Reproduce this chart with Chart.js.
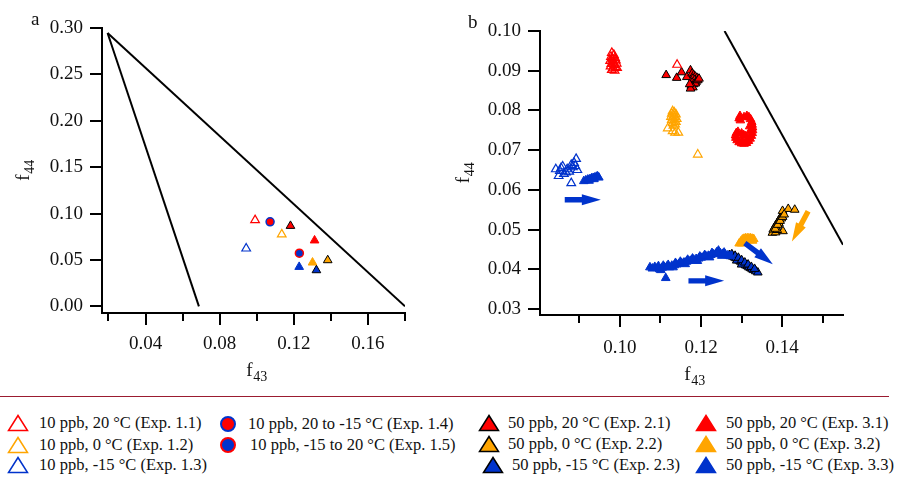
<!DOCTYPE html>
<html>
<head>
<meta charset="utf-8">
<script src="https://cdn.jsdelivr.net/npm/chart.js@4"></script>
<style>
  body { margin: 0; background: #fff; }
  #wrap { position: relative; width: 904px; height: 480px; overflow: hidden; font-family: "Liberation Serif", "Times New Roman", serif; }
  canvas { position: absolute; top: 0; }
  #sep { position: absolute; left: 0; top: 396px; width: 889px; height: 1px; background: #9b1b30; }
  .item { position: absolute; height: 20px; line-height: 20px; font-size: 16.5px; color: #111; white-space: nowrap; }
  .mk { position: absolute; }
</style>
</head>
<body>
<div id="wrap">
  <canvas id="chartA" width="420" height="390" style="left:0"></canvas>
  <canvas id="chartB" width="464" height="390" style="left:440px"></canvas>
  <div id="sep"></div>
  <div id="legend"></div>
</div>
<script>
const RED = "#ff0000";
const ORANGE = "#ffa500";
const BLUE = "#0033cc";
const FONT = "'Liberation Serif', 'Times New Roman', serif";

// Experiments (order used by panel a and the legend)
const expNames = ["1.1", "1.2", "1.3", "1.4", "1.5", "2.1", "2.2", "2.3", "3.1", "3.2", "3.3"];
const expLabels = [
  "10 ppb, 20 °C (Exp. 1.1)", "10 ppb, 0 °C (Exp. 1.2)", "10 ppb, -15 °C (Exp. 1.3)",
  "10 ppb, 20 to -15 °C (Exp. 1.4)", "10 ppb, -15 to 20 °C (Exp. 1.5)",
  "50 ppb, 20 °C (Exp. 2.1)", "50 ppb, 0 °C (Exp. 2.2)", "50 ppb, -15 °C (Exp. 2.3)",
  "50 ppb, 20 °C (Exp. 3.1)", "50 ppb, 0 °C (Exp. 3.2)", "50 ppb, -15 °C (Exp. 3.3)"
];

// Panel a: average f43 / f44 per experiment
const aF43 = [0.0991, 0.1135, 0.0943, 0.1072, 0.1230, 0.1182, 0.1383, 0.1322, 0.1312, 0.1301, 0.1229];
const aF44 = [0.0929, 0.0775, 0.0623, 0.0911, 0.0573, 0.0867, 0.0497, 0.0389, 0.0710, 0.0472, 0.0425];

// Panel a triangle boundary lines
const lineLeftA = [[0.0195, 0.2946], [0.0688, 0.0]];
const lineRightA = [[0.0195, 0.2946], [0.18, 0.0]];
const xMajorA = [0.04, 0.08, 0.12, 0.16];
const xMinorA = [0.02, 0.06, 0.10, 0.14, 0.18];
const yMajorA = [0.00, 0.05, 0.10, 0.15, 0.20, 0.25, 0.30];

// Panel b: time-resolved f43 / f44
const b11 = [[0.0980, 0.0945], [0.0985, 0.0940], [0.0978, 0.0935], [0.0988, 0.0932], [0.0982, 0.0928],
  [0.0976, 0.0925], [0.0990, 0.0926], [0.0984, 0.0921], [0.0979, 0.0917], [0.0992, 0.0918],
  [0.0986, 0.0914], [0.0977, 0.0911], [0.0989, 0.0909], [0.0983, 0.0906], [0.0993, 0.0907],
  [0.0980, 0.0902], [0.0987, 0.0900], [0.0985, 0.0918], [0.0981, 0.0931], [0.1141, 0.0915]];
const b12 = [[0.1130, 0.0798], [0.1134, 0.0795], [0.1128, 0.0792], [0.1138, 0.0790], [0.1132, 0.0787],
  [0.1126, 0.0784], [0.1136, 0.0783], [0.1130, 0.0780], [0.1140, 0.0779], [0.1128, 0.0776],
  [0.1134, 0.0774], [0.1138, 0.0771], [0.1130, 0.0768], [0.1136, 0.0765], [0.1132, 0.0762],
  [0.1118, 0.0755], [0.1130, 0.0748], [0.1136, 0.0744], [0.1144, 0.0744], [0.1192, 0.0689]];
const b13 = [[0.0842, 0.0652], [0.0859, 0.0659], [0.0892, 0.0678], [0.0880, 0.0663], [0.0849, 0.0635],
  [0.0880, 0.0617], [0.0867, 0.0644], [0.0895, 0.0650], [0.0852, 0.0648], [0.0870, 0.0652],
  [0.0887, 0.0668], [0.0875, 0.0646], [0.0862, 0.0640], [0.0855, 0.0655], [0.0884, 0.0657],
  [0.0890, 0.0660]];
const b21 = [[0.1114, 0.0889], [0.1140, 0.0882], [0.1152, 0.0896], [0.1165, 0.0884], [0.1174, 0.0901],
  [0.1178, 0.0893], [0.1182, 0.0889], [0.1186, 0.0885], [0.1190, 0.0882], [0.1180, 0.0880],
  [0.1184, 0.0876], [0.1188, 0.0872], [0.1178, 0.0870], [0.1182, 0.0866], [0.1186, 0.0868],
  [0.1176, 0.0862], [0.1180, 0.0858], [0.1174, 0.0855], [0.1192, 0.0876], [0.1195, 0.0880],
  [0.1172, 0.0866]];
const b22 = [[0.1376, 0.0492], [0.1384, 0.0493], [0.1402, 0.0496], [0.1378, 0.0500], [0.1381, 0.0505],
  [0.1384, 0.0510], [0.1387, 0.0515], [0.1390, 0.0520], [0.1393, 0.0525], [0.1396, 0.0530],
  [0.1399, 0.0535], [0.1402, 0.0540], [0.1386, 0.0506], [0.1392, 0.0516], [0.1398, 0.0528],
  [0.1401, 0.0547], [0.1415, 0.0552], [0.1431, 0.0550], [0.1388, 0.0499],
  [0.1383, 0.0502], [0.1389, 0.0512], [0.1395, 0.0522], [0.1401, 0.0532], [0.1405, 0.0538]];
const b23 = [[0.1270, 0.0436], [0.1274, 0.0434], [0.1278, 0.0432], [0.1282, 0.0430], [0.1286, 0.0428],
  [0.1290, 0.0425], [0.1294, 0.0422], [0.1298, 0.0419], [0.1302, 0.0416], [0.1306, 0.0413],
  [0.1310, 0.0410], [0.1314, 0.0408], [0.1318, 0.0405], [0.1322, 0.0403], [0.1326, 0.0400],
  [0.1330, 0.0398], [0.1335, 0.0395], [0.1340, 0.0392], [0.1288, 0.0422], [0.1300, 0.0412],
  [0.1276, 0.0438], [0.1284, 0.0434], [0.1292, 0.0429], [0.1300, 0.0423], [0.1308, 0.0417],
  [0.1316, 0.0412], [0.1324, 0.0406], [0.1332, 0.0401]];
const b31 = [[0.1296, 0.0786], [0.1294, 0.0780], [0.1297, 0.0775], [0.1306, 0.0783], [0.1313, 0.0786],
  [0.1318, 0.0783], [0.1322, 0.0778], [0.1325, 0.0771], [0.1326, 0.0764], [0.1327, 0.0757],
  [0.1327, 0.0750], [0.1326, 0.0743], [0.1324, 0.0736], [0.1321, 0.0729], [0.1317, 0.0723],
  [0.1312, 0.0718], [0.1306, 0.0716], [0.1300, 0.0717], [0.1294, 0.0720], [0.1289, 0.0725],
  [0.1286, 0.0731], [0.1285, 0.0737], [0.1287, 0.0743], [0.1291, 0.0746], [0.1300, 0.0742],
  [0.1305, 0.0738], [0.1310, 0.0735], [0.1320, 0.0760], [0.1321, 0.0748], [0.1315, 0.0728],
  [0.1300, 0.0724]];
const b32 = [[0.1294, 0.0465], [0.1298, 0.0470], [0.1302, 0.0475], [0.1306, 0.0477], [0.1310, 0.0478],
  [0.1314, 0.0478], [0.1318, 0.0478], [0.1322, 0.0478], [0.1326, 0.0477], [0.1330, 0.0476],
  [0.1304, 0.0470], [0.1312, 0.0473], [0.1320, 0.0473], [0.1300, 0.0465], [0.1327, 0.0472]];
const b33 = [[0.0911, 0.0622], [0.0916, 0.0624], [0.0921, 0.0626], [0.0926, 0.0627], [0.0930, 0.0629],
  [0.0934, 0.0630], [0.0938, 0.0631], [0.0942, 0.0633], [0.0945, 0.0634], [0.0948, 0.0631],
  [0.0924, 0.0623], [0.0936, 0.0627],
  [0.1074, 0.0405], [0.1080, 0.0402], [0.1086, 0.0406], [0.1092, 0.0403], [0.1098, 0.0400],
  [0.1104, 0.0404], [0.1113, 0.0378], [0.1110, 0.0405], [0.1116, 0.0407], [0.1122, 0.0405],
  [0.1128, 0.0409], [0.1134, 0.0410], [0.1140, 0.0412], [0.1146, 0.0414], [0.1152, 0.0416],
  [0.1158, 0.0417], [0.1164, 0.0419], [0.1170, 0.0421], [0.1176, 0.0423], [0.1182, 0.0424],
  [0.1188, 0.0426], [0.1194, 0.0427], [0.1200, 0.0429], [0.1206, 0.0431], [0.1212, 0.0433],
  [0.1218, 0.0434], [0.1224, 0.0436], [0.1230, 0.0438], [0.1236, 0.0439], [0.1243, 0.0447],
  [0.1248, 0.0440], [0.1254, 0.0439], [0.1260, 0.0437], [0.1266, 0.0435], [0.1272, 0.0433],
  [0.1101, 0.0398], [0.1131, 0.0405], [0.1161, 0.0413], [0.1191, 0.0421], [0.1221, 0.0430],
  [0.1251, 0.0434],
  [0.1095, 0.0408], [0.1107, 0.0409], [0.1119, 0.0411], [0.1137, 0.0416], [0.1149, 0.0419],
  [0.1167, 0.0424], [0.1179, 0.0427], [0.1197, 0.0432], [0.1209, 0.0436], [0.1227, 0.0441],
  [0.1239, 0.0443], [0.1257, 0.0442]];

// Panel b boundary line and arrows [fromX, fromY, toX, toY]
const lineB = [[0.1258, 0.1000], [0.155, 0.0462]];
const arrowsBlueB = [[0.0864, 0.0575, 0.0953, 0.0575], [0.1169, 0.0371, 0.1257, 0.0371], [0.1308, 0.0466, 0.1377, 0.0413]];
const arrowsOrangeB = [[0.1464, 0.0546, 0.1424, 0.0470]];
const xMajorB = [0.10, 0.12, 0.14];
const xMinorB = [0.09, 0.11, 0.13, 0.15];
const yMajorB = [0.03, 0.04, 0.05, 0.06, 0.07, 0.08, 0.09, 0.10];

// marker style per experiment
const expStyle = {
  "1.1": { kind: "open", color: RED }, "1.2": { kind: "open", color: ORANGE }, "1.3": { kind: "open", color: BLUE },
  "1.4": { kind: "circle", color: RED, edge: BLUE }, "1.5": { kind: "circle", color: BLUE, edge: RED },
  "2.1": { kind: "edge", color: RED }, "2.2": { kind: "edge", color: ORANGE }, "2.3": { kind: "edge", color: BLUE },
  "3.1": { kind: "fill", color: RED }, "3.2": { kind: "fill", color: ORANGE }, "3.3": { kind: "fill", color: BLUE }
};

function pts(arr) {
  return arr.map(p => ({ x: p[0], y: p[1] }));
}

function markerDataset(name, data) {
  const s = expStyle[name];
  const ds = { label: name, data, pointStyle: "triangle", pointRadius: 5, pointBorderWidth: 1, showLine: false };
  if (s.kind === "open") {
    ds.pointBackgroundColor = "rgba(0,0,0,0)";
    ds.pointBorderColor = s.color;
    ds.pointBorderWidth = 1.2;
  } else if (s.kind === "edge") {
    ds.pointBackgroundColor = s.color;
    ds.pointBorderColor = "#000";
  } else if (s.kind === "fill") {
    ds.pointBackgroundColor = s.color;
    ds.pointBorderColor = s.color;
  } else {
    ds.pointStyle = "circle";
    ds.pointRadius = 4;
    ds.pointBackgroundColor = s.color;
    ds.pointBorderColor = s.edge;
    ds.pointBorderWidth = 1.5;
  }
  return ds;
}

function lineDataset(arr) {
  return { data: pts(arr), showLine: true, borderColor: "#000", borderWidth: 2, pointRadius: 0, fill: false };
}

function drawArrow(ctx, x1, y1, x2, y2, color) {
  const ang = Math.atan2(y2 - y1, x2 - x1);
  const len = Math.hypot(x2 - x1, y2 - y1);
  const head = 19, hw = 5.5, sw = 2.7;
  ctx.save();
  ctx.translate(x1, y1);
  ctx.rotate(ang);
  ctx.fillStyle = color;
  ctx.beginPath();
  ctx.moveTo(0, -sw);
  ctx.lineTo(len - head, -sw);
  ctx.lineTo(len - head, -hw);
  ctx.lineTo(len, 0);
  ctx.lineTo(len - head, hw);
  ctx.lineTo(len - head, sw);
  ctx.lineTo(0, sw);
  ctx.closePath();
  ctx.fill();
  ctx.restore();
}

function drawSub(ctx, main, sub, x, y, align) {
  ctx.font = "19px " + FONT;
  const w1 = ctx.measureText(main).width;
  ctx.font = "14px " + FONT;
  const w2 = ctx.measureText(sub).width;
  const x0 = align === "center" ? x - (w1 + w2) / 2 : x;
  ctx.textAlign = "left";
  ctx.textBaseline = "alphabetic";
  ctx.font = "19px " + FONT;
  ctx.fillText(main, x0, y);
  ctx.font = "14px " + FONT;
  ctx.fillText(sub, x0 + w1 + 0.5, y + 5);
}

// minor ticks, axis titles, panel letter and arrows
const decor = {
  id: "decor",
  afterDatasetsDraw(chart, args, opts) {
    const ctx = chart.ctx, xs = chart.scales.x, ys = chart.scales.y;
    (opts.arrows || []).forEach(a => {
      drawArrow(ctx, xs.getPixelForValue(a.v[0]), ys.getPixelForValue(a.v[1]),
        xs.getPixelForValue(a.v[2]), ys.getPixelForValue(a.v[3]), a.color);
    });
  },
  afterDraw(chart, args, opts) {
    const ctx = chart.ctx, xs = chart.scales.x, area = chart.chartArea;
    ctx.save();
    ctx.strokeStyle = "#000";
    ctx.lineWidth = 2;
    ctx.beginPath();
    (opts.minorX || []).forEach(v => {
      const px = Math.round(xs.getPixelForValue(v));
      ctx.moveTo(px, area.bottom);
      ctx.lineTo(px, area.bottom + 8);
    });
    ctx.stroke();
    ctx.fillStyle = "#111";
    drawSub(ctx, "f", "43", (area.left + area.right) / 2 + 3, opts.xTitleY, "center");
    ctx.save();
    ctx.translate(opts.yTitleX, (area.top + area.bottom) / 2);
    ctx.rotate(-Math.PI / 2);
    drawSub(ctx, "f", "44", 0, 0, "center");
    ctx.restore();
    ctx.font = "19px " + FONT;
    ctx.textAlign = "left";
    ctx.fillText(opts.letter, opts.letterX, opts.letterY);
    ctx.restore();
  }
};

function axis(min, max, major, size, tickPad, isX) {
  const cfg = {
    type: "linear",
    min, max,
    afterBuildTicks: s => { s.ticks = major.map(v => ({ value: v })); },
    grid: { drawOnChartArea: false, drawTicks: true, tickLength: 12, color: "#000", lineWidth: 2 },
    border: { display: true, color: "#000", width: 2 },
    ticks: {
      font: { family: FONT, size: 19 }, color: "#111", padding: tickPad,
      maxRotation: 0, autoSkip: false, callback: v => Number(v).toFixed(2)
    }
  };
  if (isX) cfg.afterFit = s => { s.height = size; };
  else cfg.afterFit = s => { s.width = size; };
  return cfg;
}

function baseOptions(pad, scales, decorOpts) {
  return {
    responsive: false,
    animation: false,
    layout: { padding: pad },
    plugins: { legend: { display: false }, tooltip: { enabled: false }, decor: decorOpts },
    scales
  };
}

// Panel a
const dsA = [lineDataset(lineLeftA), lineDataset(lineRightA)];
expNames.forEach((n, i) => dsA.push(markerDataset(n, [{ x: aF43[i], y: aF44[i] }])));

new Chart(document.getElementById("chartA"), {
  type: "scatter",
  data: { datasets: dsA },
  options: baseOptions(
    { top: 28, right: 15, left: 0, bottom: 0 },
    { x: axis(0.0165, 0.18, xMajorA, 77, 8, true), y: axis(-0.0072, 0.30, yMajorA, 102, 7, false) },
    { minorX: xMinorA, xTitleY: 376, yTitleX: 29, letter: "a", letterX: 31, letterY: 25 }
  ),
  plugins: [decor]
});

// Panel b
const seriesB = { "1.1": b11, "1.2": b12, "1.3": b13, "2.1": b21, "2.2": b22, "2.3": b23, "3.1": b31, "3.2": b32, "3.3": b33 };
const orderB = ["1.1", "1.2", "1.3", "3.1", "3.2", "3.3", "2.1", "2.2", "2.3"];
const dsB = [lineDataset(lineB)];
orderB.forEach(n => dsB.push(markerDataset(n, pts(seriesB[n]))));
const arrowsB = arrowsBlueB.map(v => ({ v, color: BLUE })).concat(arrowsOrangeB.map(v => ({ v, color: ORANGE })));

new Chart(document.getElementById("chartB"), {
  type: "scatter",
  data: { datasets: dsB },
  options: baseOptions(
    { top: 31, right: 61, left: 0, bottom: 0 },
    { x: axis(0.0803, 0.155, xMajorB, 75, 10, true), y: axis(0.0285, 0.10, yMajorB, 100, 7, false) },
    { minorX: xMinorB, arrows: arrowsB, xTitleY: 380, yTitleX: 29, letter: "b", letterX: 28, letterY: 28 }
  ),
  plugins: [decor]
});

// Legend (marker centre x, centre y, text x)
const legendPos = [
  [18, 423, 39], [18, 445, 39], [18, 465, 39],
  [228, 424, 248], [228, 445, 250],
  [489, 423, 508], [489, 444, 508], [493, 465, 512],
  [706, 423, 726], [706, 444, 726], [706, 465, 726]
];

function markerSvg(name) {
  const s = expStyle[name];
  if (s.kind === "circle") {
    return `<svg width="18" height="18"><circle cx="9" cy="9" r="7" fill="${s.color}" stroke="${s.edge}" stroke-width="2"/></svg>`;
  }
  const fill = s.kind === "open" ? "none" : s.color;
  const stroke = s.kind === "edge" ? "#000" : s.color;
  return `<svg width="22" height="18"><polygon points="11,1.5 20.5,16.5 1.5,16.5" fill="${fill}" stroke="${stroke}" stroke-width="1.5"/></svg>`;
}

const legend = document.getElementById("legend");
expNames.forEach((n, i) => {
  const [cx, cy, tx] = legendPos[i];
  const mk = document.createElement("div");
  mk.className = "mk";
  mk.innerHTML = markerSvg(n);
  const w = expStyle[n].kind === "circle" ? 18 : 22;
  mk.style.left = (cx - w / 2) + "px";
  mk.style.top = (cy - 9) + "px";
  legend.appendChild(mk);
  const it = document.createElement("div");
  it.className = "item";
  it.textContent = expLabels[i];
  it.style.left = tx + "px";
  it.style.top = (cy - 10) + "px";
  legend.appendChild(it);
});
</script>
</body>
</html>
